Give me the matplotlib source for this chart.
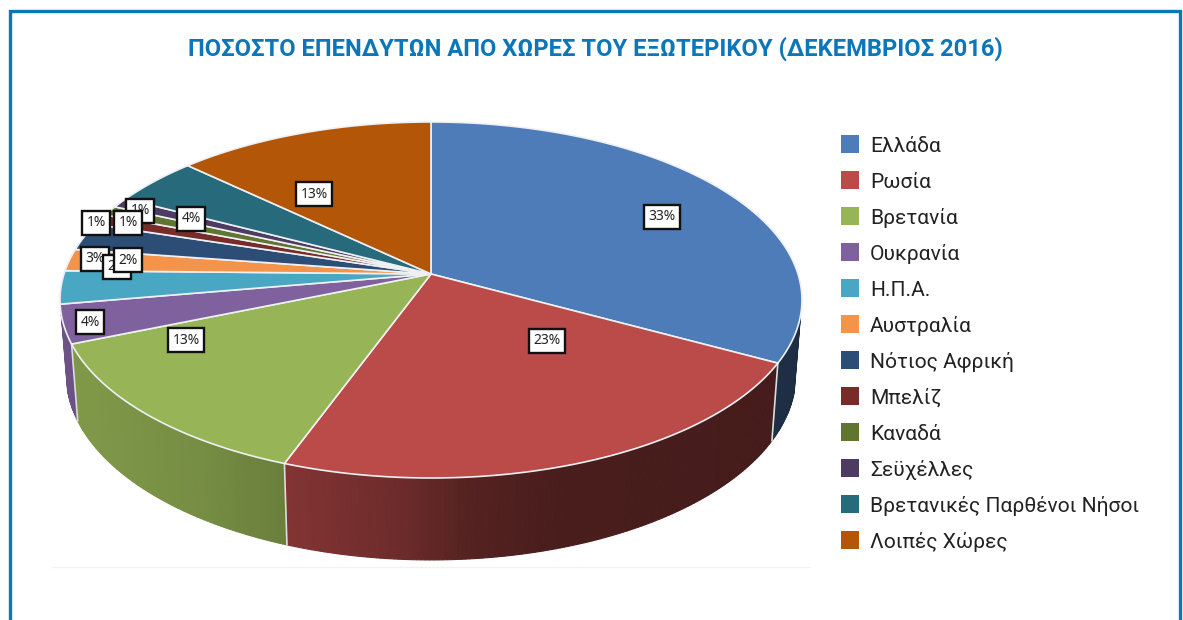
#! /usr/bin/env python
import numpy as np
import matplotlib
matplotlib.use('Agg')
import matplotlib.pyplot as plt
from matplotlib.colors import to_rgb
from matplotlib.patches import Polygon, Rectangle

# Data
countries = ['Ελλάδα', 'Ρωσία', 'Βρετανία', 'Ουκρανία', 'Η.Π.Α.', 'Αυστραλία', 'Νότιος Αφρική',
             'Μπελίζ', 'Καναδά', 'Σεϋχέλλες', 'Βρετανικές Παρθένοι Νήσοι', 'Λοιπές Χώρες']
shares = [32.9, 22.7, 13.2, 3.5, 3.0, 2.0, 2.5, 1.0, 0.9, 0.9, 4.4, 13.0]
share_labels = ['33%', '23%', '13%', '4%', '3%', '2%', '2%', '1%', '1%', '1%', '4%', '13%']
colors = ['#4d7cb9', '#ba4b49', '#97b556', '#7f619d', '#4aa7c4', '#f4944a',
          '#2c4d75', '#772c2a', '#5f7530', '#4d3b62', '#276a7c', '#b45607']
title = 'ΠΟΣΟΣΤΟ ΕΠΕΝΔΥΤΩΝ ΑΠΟ ΧΩΡΕΣ ΤΟΥ ΕΞΩΤΕΡΙΚΟΥ (ΔΕΚΕΜΒΡΙΟΣ 2016)'

# Label placement, in picture pixels (drawn in this order, later ones on top)
label_x = [662, 547, 186, 90, 95, 117, 128, 96, 128, 140, 191, 314]
label_y = [217, 341, 340, 322, 259, 267, 260, 223, 223, 211, 219, 194]
label_order = [0, 1, 2, 3, 9, 4, 5, 6, 7, 8, 10, 11]

# Pie geometry: perspective view of a disc
cx, cy = 431, 274
A, B, k = 367.0, 174.2, 0.146


def rim(frac):
    a = 2 * np.pi * np.asarray(frac)
    u, v = np.sin(a), -np.cos(a)
    w = 1 - k * v
    return cx + A * u / w, cy + B * v / w


def bottom(x, y):
    # lower rim is a bit narrower than the top one
    return cx + (x - cx) * 0.983, y + 77 + 0.038 * (y - 348)


def wall_shade(col, x):
    f = np.interp(x, [60, 200, 285, 400, 470, 560, 800], [0.85, 0.78, 0.70, 0.58, 0.45, 0.39, 0.37])
    return tuple(c * f for c in to_rgb(col))


plt.rcParams['font.family'] = ['Roboto', 'DejaVu Sans']

fig = plt.figure(figsize=(11.83, 6.20), dpi=100)
ax = fig.add_axes([0, 0, 1, 1])
ax.set_xlim(0, 1183)
ax.set_ylim(620, 0)
ax.axis('off')

# Blue frame, open at the bottom
ax.plot([10, 10, 1180, 1180], [620, 11, 11, 620], color='#0b76b8', lw=2.4, solid_joinstyle='miter')
ax.plot([52, 810], [567, 567], color='#f2f2f2', lw=1)

edges = np.cumsum([0] + shares) / sum(shares)

# Side walls, only the part of the rim that faces us
for i in range(len(shares)):
    t = np.linspace(edges[i], edges[i + 1], max(int(shares[i] * 6), 2))
    for t0, t1 in zip(t[:-1], t[1:]):
        x0, y0 = rim(t0)
        x1, y1 = rim(t1)
        if max(y0, y1) < 316:
            continue
        bx0, by0 = bottom(x0, y0)
        bx1, by1 = bottom(x1, y1)
        c = wall_shade(colors[i], (x0 + x1) / 2)
        ax.add_patch(Polygon([(x0, y0), (x1, y1), (bx1, by1), (bx0, by0)],
                             facecolor=c, edgecolor=c, lw=0.8, zorder=1))
    x0, y0 = rim(edges[i])
    if y0 > 316:
        bx0, by0 = bottom(x0, y0)
        ax.plot([x0, bx0], [y0, by0], color='#dcdcdc', lw=1.2, zorder=1.5)

# Top faces
for i in range(len(shares)):
    t = np.linspace(edges[i], edges[i + 1], 100)
    x, y = rim(t)
    pts = [(cx, cy)] + list(zip(x, y))
    ax.add_patch(Polygon(pts, closed=True, facecolor=colors[i], edgecolor='#eef0f4', lw=1.2, zorder=2))

# Data labels
for i in label_order:
    ax.text(label_x[i], label_y[i], share_labels[i], ha='center', va='center', fontsize=10,
            color='#222222', family=['Noto Sans', 'DejaVu Sans'], zorder=3,
            bbox=dict(boxstyle='square,pad=0.32', facecolor='white', edgecolor='#111111', lw=1.7))

ax.text(595, 49, title, ha='center', va='center', fontsize=17.1, fontweight='bold', color='#0b76b8')

# Legend is cut off at the bottom in the picture
clip = Rectangle((830, 120), 340, 427, transform=ax.transData)
for i, name in enumerate(countries):
    yy = 144 + i * 36
    ax.add_patch(Rectangle((841, yy - 9), 18, 18, facecolor=colors[i], edgecolor='none'))
    txt = ax.text(870, yy + 2, name, ha='left', va='center', fontsize=15.1, color='#222222')
    txt.set_clip_path(clip)

fig.savefig('out.png', dpi=100)
